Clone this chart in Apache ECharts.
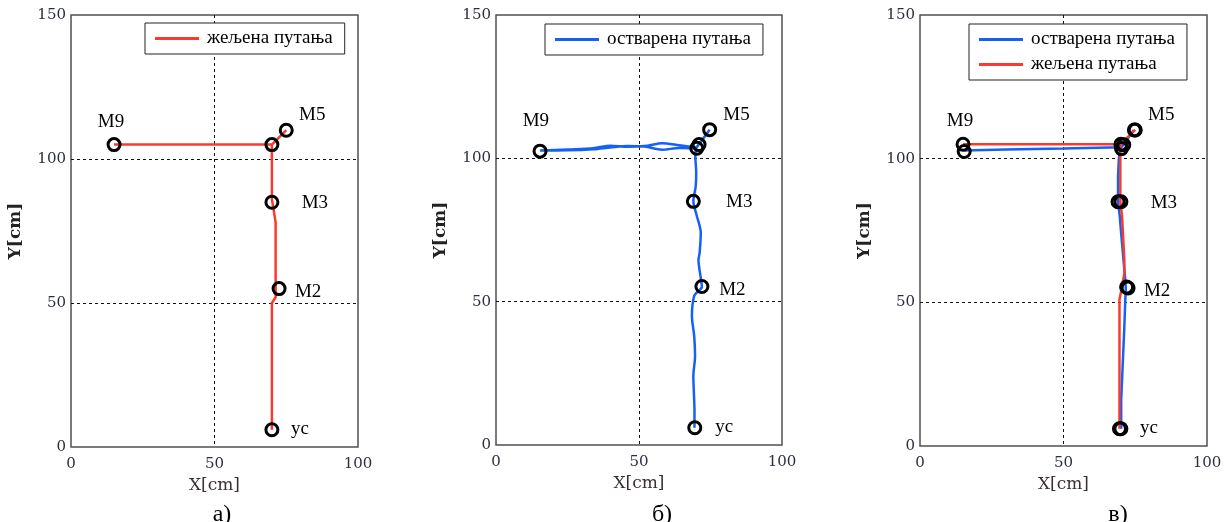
<!DOCTYPE html>
<html>
<head>
<meta charset="utf-8">
<script src="https://cdn.jsdelivr.net/npm/echarts@6/dist/echarts.min.js"></script>
<style>
  html, body { margin: 0; padding: 0; background: #fff; }
  #chart { width: 1225px; height: 522px; }
</style>
</head>
<body>
<div id="chart"></div>
<script>
// legend names
const nameDesired = 'жељена путања';
const nameActual = 'остварена путања';

// axis ticks
const xTicks = [0, 50, 100];
const yTicks = [0, 50, 100, 150];

// named waypoints (desired path), used for the labels
const waypointNames = ['ус', 'M2', 'M3', 'M5', 'M9'];
const waypoints = [[70, 6], [72.5, 55], [70, 85], [75, 110], [15, 105]];

// circles
const markersDesired = [[70, 6], [72.5, 55], [70, 85], [70, 105], [75, 110], [15, 105]];
const markersActual = [[69.5, 6], [72, 55.3], [69, 85], [70.2, 103.5], [71, 104.8], [74.7, 110], [15.4, 102.5]];

// panel а) desired path
const desiredPathA = [
  [70, 6], [70, 50], [71.3, 52], [71.3, 78], [70.5, 83], [70, 86], [70, 105],
  [75, 110], [70, 105], [15, 105]
];

// panel б) actual path
const actualPathB = [
  [69.4, 6], [69.4, 12], [69.2, 18], [69, 24], [69.6, 31], [69.3, 38], [68.5, 45],
  [69.3, 52], [71, 54], [72, 55], [71.7, 57.6], [70.8, 64.6], [71.2, 67], [71.6, 74],
  [70.2, 80], [69, 85], [69.8, 90], [70, 95], [69.7, 100.7], [70, 103.5], [71, 105],
  [74.7, 110], [71, 105], [70, 103.8], [64, 104.6], [58, 105.3], [53, 104.4], [46, 104],
  [40, 104.4], [34, 103.5], [25, 103.1], [15.4, 102.7], [25, 102.8], [34, 103.2],
  [40, 103.8], [46, 104.3], [52, 104.1], [58, 103], [64, 103.6], [70, 103.5]
];

// panel в) both paths
const actualPathC = [
  [70.1, 6], [70.1, 16], [70.7, 30], [71.2, 41.5], [71.5, 50], [71.7, 55], [71.5, 58],
  [70.9, 64.7], [70.1, 74], [69.6, 80], [69, 85], [69, 94], [69.3, 100], [69.8, 103.5],
  [71, 105], [74.5, 110], [71, 105], [70, 104], [50, 103.5], [30, 103.2], [15.3, 102.8]
];
const desiredPathC = [
  [69.5, 6], [69.5, 51], [70.3, 55], [71.2, 60], [71.2, 64.7], [70.4, 80], [69.8, 85],
  [69.8, 105], [75, 110], [69.8, 105], [15, 105]
];

const captions = ['а)', 'б)', 'в)'];

// ---- styles ----
const RED = '#f93b2f';
const BLUE = '#1561f6';
const SERIF = '"Liberation Serif", "Times New Roman", serif';
const TICKFONT = '"DejaVu Serif", serif';

const panels = [
  { left: 71, top: 15, width: 287, height: 432, cap: 222 },
  { left: 496, top: 15, width: 286, height: 430, cap: 662 },
  { left: 920, top: 15, width: 287, height: 431, cap: 1118 }
];

// label offsets (px) relative to the waypoint
const labelOffset = {
  'ус': [28, -1],
  'M2': [29, 3],
  'M3': [43, 1],
  'M5': [26, -15],
  'M9': [-3, -23]
};

const chart = echarts.init(document.getElementById('chart'));

const grid = panels.map(p => ({
  left: p.left, top: p.top, width: p.width, height: p.height,
  show: true, borderColor: '#505050', borderWidth: 1.5, backgroundColor: 'transparent'
}));

const splitLine = {
  show: true, showMinLine: false, showMaxLine: false,
  lineStyle: { color: '#111', type: [3, 3], width: 1 }
};

const xAxis = panels.map((p, i) => ({
  gridIndex: i, type: 'value', min: xTicks[0], max: xTicks[xTicks.length - 1], interval: 50,
  axisLine: { show: false }, axisTick: { show: false }, splitLine,
  axisLabel: { color: '#2b2f3f', fontFamily: TICKFONT, fontSize: 15, margin: 10 },
  name: 'X[cm]', nameLocation: 'middle', nameGap: 30,
  nameTextStyle: { color: '#3a3030', fontFamily: TICKFONT, fontSize: 17 }
}));

const yAxis = panels.map((p, i) => ({
  gridIndex: i, type: 'value', min: yTicks[0], max: yTicks[yTicks.length - 1], interval: 50,
  axisLine: { show: false }, axisTick: { show: false }, splitLine,
  axisLabel: { color: '#2b2f3f', fontFamily: TICKFONT, fontSize: 15, margin: 5 },
  name: 'Y[cm]', nameLocation: 'middle', nameGap: 47,
  nameTextStyle: { color: '#222', fontFamily: TICKFONT, fontSize: 17, fontWeight: 'bold' }
}));

function pathSeries(name, data, color, i, smooth) {
  return {
    name, type: 'line', xAxisIndex: i, yAxisIndex: i, data,
    symbol: 'none', silent: true, animation: false, smooth: smooth || false,
    lineStyle: { color, width: 2.5 }, itemStyle: { color }
  };
}

function markerSeries(data, i) {
  return {
    type: 'scatter', xAxisIndex: i, yAxisIndex: i, data, z: 5,
    symbol: 'circle', symbolSize: 12, silent: true, animation: false,
    itemStyle: { color: 'rgba(0,0,0,0)', borderColor: '#000', borderWidth: 3, opacity: 1 }
  };
}

function labelSeries(i) {
  return {
    type: 'scatter', xAxisIndex: i, yAxisIndex: i, z: 6,
    symbol: 'circle', symbolSize: 1, silent: true, animation: false,
    itemStyle: { color: 'rgba(0,0,0,0)' },
    data: waypoints.map((w, k) => ({
      value: w,
      label: {
        show: true, position: 'inside', formatter: waypointNames[k],
        offset: labelOffset[waypointNames[k]], opacity: 1,
        color: '#000', textBorderWidth: 0, fontFamily: SERIF, fontSize: 19
      }
    }))
  };
}

const series = [
  pathSeries(nameDesired, desiredPathA, RED, 0),
  markerSeries(markersDesired, 0),
  labelSeries(0),
  pathSeries(nameActual, actualPathB, BLUE, 1, 0.3),
  markerSeries(markersActual, 1),
  labelSeries(1),
  pathSeries(nameActual, actualPathC, BLUE, 2),
  pathSeries(nameDesired, desiredPathC, RED, 2),
  markerSeries(markersDesired, 2),
  markerSeries(markersActual, 2),
  labelSeries(2)
];

const legendBase = {
  orient: 'vertical', icon: 'rect', itemWidth: 44, itemHeight: 3, itemGap: 6,
  padding: [6, 12, 6, 10],
  borderColor: '#222', borderWidth: 1, backgroundColor: '#fff',
  selectedMode: false,
  textStyle: { color: '#000', fontFamily: SERIF, fontSize: 19, padding: [0, 0, 0, 3] }
};

const legend = [
  Object.assign({}, legendBase, { left: 145, top: 23, data: [nameDesired] }),
  Object.assign({}, legendBase, { left: 545, top: 24, data: [nameActual] }),
  Object.assign({}, legendBase, { left: 969, top: 24, data: [nameActual, nameDesired] })
];

const graphic = panels.map((p, i) => ({
  type: 'text', x: p.cap, y: 503, silent: true,
  style: {
    text: captions[i], fill: '#000', fontFamily: SERIF, fontSize: 24,
    align: 'center', textAlign: 'center', verticalAlign: 'top'
  }
}));

chart.setOption({
  animation: false,
  backgroundColor: '#fff',
  grid, xAxis, yAxis, series, legend, graphic
});
</script>
</body>
</html>
